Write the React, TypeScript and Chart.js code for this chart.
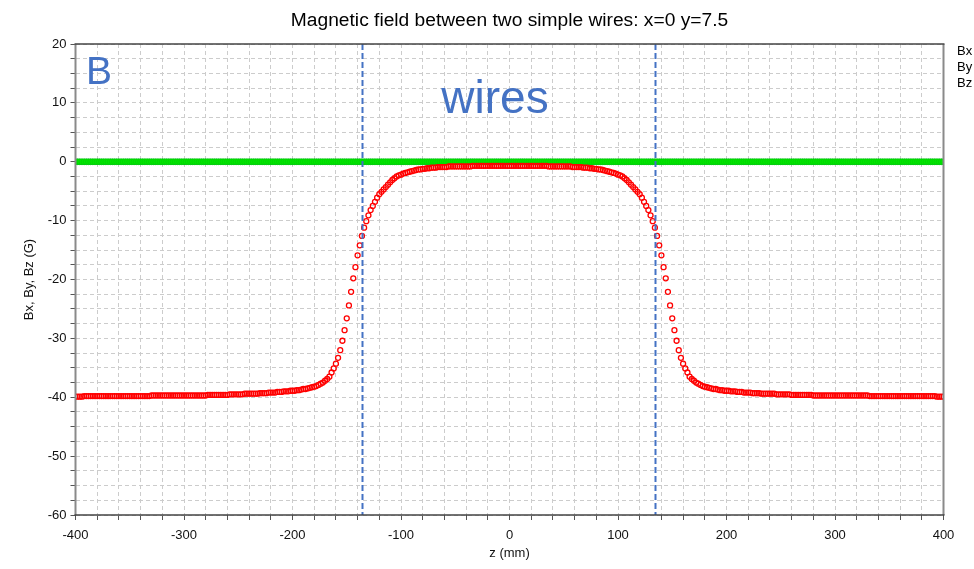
import { useEffect, useRef } from "react";
import { Chart, registerables } from "chart.js";

Chart.register(...registerables);

// Sample grid along the axis between the two wires (mm)
const Z_START = -400;
const Z_STEP = 2;

// Bz (G) at z = -400, -398, ... , 400
const bzValues: number[] = [
  -39.9, -39.9, -39.9, -39.9, -39.8, -39.8, -39.8, -39.8, -39.8, -39.8,
  -39.8, -39.8, -39.8, -39.8, -39.8, -39.8, -39.8, -39.8, -39.8, -39.8,
  -39.8, -39.8, -39.8, -39.8, -39.8, -39.8, -39.8, -39.8, -39.8, -39.8,
  -39.8, -39.8, -39.8, -39.8, -39.8, -39.7, -39.7, -39.7, -39.7, -39.7,
  -39.7, -39.7, -39.7, -39.7, -39.7, -39.7, -39.7, -39.7, -39.7, -39.7,
  -39.7, -39.7, -39.7, -39.7, -39.7, -39.7, -39.7, -39.7, -39.7, -39.7,
  -39.7, -39.6, -39.6, -39.6, -39.6, -39.6, -39.6, -39.6, -39.6, -39.6,
  -39.6, -39.5, -39.5, -39.5, -39.5, -39.5, -39.5, -39.5, -39.4, -39.4,
  -39.4, -39.4, -39.4, -39.4, -39.4, -39.3, -39.3, -39.3, -39.3, -39.2,
  -39.2, -39.2, -39.2, -39.1, -39.1, -39.1, -39.0, -39.0, -39.0, -38.9,
  -38.9, -38.9, -38.8, -38.8, -38.7, -38.6, -38.6, -38.5, -38.4, -38.3,
  -38.2, -38.1, -37.9, -37.7, -37.5, -37.2, -36.9, -36.5, -35.8, -35.1,
  -34.3, -33.3, -32.0, -30.4, -28.6, -26.6, -24.4, -22.1, -19.8, -17.9,
  -15.9, -14.2, -12.6, -11.2, -10.1, -9.1, -8.2, -7.5, -6.8, -6.1,
  -5.5, -5.1, -4.7, -4.3, -3.9, -3.5, -3.1, -2.8, -2.5, -2.3,
  -2.2, -2.0, -1.9, -1.8, -1.7, -1.6, -1.5, -1.4, -1.3, -1.3,
  -1.2, -1.2, -1.1, -1.1, -1.0, -1.0, -1.0, -0.9, -0.9, -0.9,
  -0.9, -0.9, -0.8, -0.8, -0.8, -0.8, -0.8, -0.8, -0.8, -0.8,
  -0.8, -0.8, -0.8, -0.7, -0.7, -0.7, -0.7, -0.7, -0.7, -0.7,
  -0.7, -0.7, -0.7, -0.7, -0.7, -0.7, -0.7, -0.7, -0.7, -0.7,
  -0.7,
  -0.7, -0.7, -0.7, -0.7, -0.7, -0.7, -0.7, -0.7, -0.7, -0.7,
  -0.7, -0.7, -0.7, -0.7, -0.7, -0.7, -0.7, -0.8, -0.8, -0.8,
  -0.8, -0.8, -0.8, -0.8, -0.8, -0.8, -0.8, -0.8, -0.9, -0.9,
  -0.9, -0.9, -0.9, -1.0, -1.0, -1.0, -1.1, -1.1, -1.2, -1.2,
  -1.3, -1.3, -1.4, -1.5, -1.6, -1.7, -1.8, -1.9, -2.0, -2.2,
  -2.3, -2.5, -2.8, -3.1, -3.5, -3.9, -4.3, -4.7, -5.1, -5.5,
  -6.1, -6.8, -7.5, -8.2, -9.1, -10.1, -11.2, -12.6, -14.2, -15.9,
  -17.9, -19.8, -22.1, -24.4, -26.6, -28.6, -30.4, -32.0, -33.3, -34.3,
  -35.1, -35.8, -36.5, -36.9, -37.2, -37.5, -37.7, -37.9, -38.1, -38.2,
  -38.3, -38.4, -38.5, -38.6, -38.6, -38.7, -38.8, -38.8, -38.9, -38.9,
  -38.9, -39.0, -39.0, -39.0, -39.1, -39.1, -39.1, -39.2, -39.2, -39.2,
  -39.2, -39.3, -39.3, -39.3, -39.3, -39.4, -39.4, -39.4, -39.4, -39.4,
  -39.4, -39.4, -39.5, -39.5, -39.5, -39.5, -39.5, -39.5, -39.5, -39.6,
  -39.6, -39.6, -39.6, -39.6, -39.6, -39.6, -39.6, -39.6, -39.6, -39.7,
  -39.7, -39.7, -39.7, -39.7, -39.7, -39.7, -39.7, -39.7, -39.7, -39.7,
  -39.7, -39.7, -39.7, -39.7, -39.7, -39.7, -39.7, -39.7, -39.7, -39.7,
  -39.7, -39.7, -39.7, -39.7, -39.7, -39.8, -39.8, -39.8, -39.8, -39.8,
  -39.8, -39.8, -39.8, -39.8, -39.8, -39.8, -39.8, -39.8, -39.8, -39.8,
  -39.8, -39.8, -39.8, -39.8, -39.8, -39.8, -39.8, -39.8, -39.8, -39.8,
  -39.8, -39.8, -39.8, -39.8, -39.8, -39.8, -39.9, -39.9, -39.9, -39.9,
];

// Bx and By (G) on the same grid: both vanish on this line
const bxValues: number[] = [
  0,0,0,0,0,0,0,0,0,0,0,0,0,0,0,0,0,0,0,0, 0,0,0,0,0,0,0,0,0,0,0,0,0,0,0,0,0,0,0,0,
  0,0,0,0,0,0,0,0,0,0,0,0,0,0,0,0,0,0,0,0, 0,0,0,0,0,0,0,0,0,0,0,0,0,0,0,0,0,0,0,0,
  0,0,0,0,0,0,0,0,0,0,0,0,0,0,0,0,0,0,0,0, 0,0,0,0,0,0,0,0,0,0,0,0,0,0,0,0,0,0,0,0,
  0,0,0,0,0,0,0,0,0,0,0,0,0,0,0,0,0,0,0,0, 0,0,0,0,0,0,0,0,0,0,0,0,0,0,0,0,0,0,0,0,
  0,0,0,0,0,0,0,0,0,0,0,0,0,0,0,0,0,0,0,0, 0,0,0,0,0,0,0,0,0,0,0,0,0,0,0,0,0,0,0,0,
  0,
  0,0,0,0,0,0,0,0,0,0,0,0,0,0,0,0,0,0,0,0, 0,0,0,0,0,0,0,0,0,0,0,0,0,0,0,0,0,0,0,0,
  0,0,0,0,0,0,0,0,0,0,0,0,0,0,0,0,0,0,0,0, 0,0,0,0,0,0,0,0,0,0,0,0,0,0,0,0,0,0,0,0,
  0,0,0,0,0,0,0,0,0,0,0,0,0,0,0,0,0,0,0,0, 0,0,0,0,0,0,0,0,0,0,0,0,0,0,0,0,0,0,0,0,
  0,0,0,0,0,0,0,0,0,0,0,0,0,0,0,0,0,0,0,0, 0,0,0,0,0,0,0,0,0,0,0,0,0,0,0,0,0,0,0,0,
  0,0,0,0,0,0,0,0,0,0,0,0,0,0,0,0,0,0,0,0, 0,0,0,0,0,0,0,0,0,0,0,0,0,0,0,0,0,0,0,0,
];
const byValues: number[] = [
  0,0,0,0,0,0,0,0,0,0,0,0,0,0,0,0,0,0,0,0, 0,0,0,0,0,0,0,0,0,0,0,0,0,0,0,0,0,0,0,0,
  0,0,0,0,0,0,0,0,0,0,0,0,0,0,0,0,0,0,0,0, 0,0,0,0,0,0,0,0,0,0,0,0,0,0,0,0,0,0,0,0,
  0,0,0,0,0,0,0,0,0,0,0,0,0,0,0,0,0,0,0,0, 0,0,0,0,0,0,0,0,0,0,0,0,0,0,0,0,0,0,0,0,
  0,0,0,0,0,0,0,0,0,0,0,0,0,0,0,0,0,0,0,0, 0,0,0,0,0,0,0,0,0,0,0,0,0,0,0,0,0,0,0,0,
  0,0,0,0,0,0,0,0,0,0,0,0,0,0,0,0,0,0,0,0, 0,0,0,0,0,0,0,0,0,0,0,0,0,0,0,0,0,0,0,0,
  0,
  0,0,0,0,0,0,0,0,0,0,0,0,0,0,0,0,0,0,0,0, 0,0,0,0,0,0,0,0,0,0,0,0,0,0,0,0,0,0,0,0,
  0,0,0,0,0,0,0,0,0,0,0,0,0,0,0,0,0,0,0,0, 0,0,0,0,0,0,0,0,0,0,0,0,0,0,0,0,0,0,0,0,
  0,0,0,0,0,0,0,0,0,0,0,0,0,0,0,0,0,0,0,0, 0,0,0,0,0,0,0,0,0,0,0,0,0,0,0,0,0,0,0,0,
  0,0,0,0,0,0,0,0,0,0,0,0,0,0,0,0,0,0,0,0, 0,0,0,0,0,0,0,0,0,0,0,0,0,0,0,0,0,0,0,0,
  0,0,0,0,0,0,0,0,0,0,0,0,0,0,0,0,0,0,0,0, 0,0,0,0,0,0,0,0,0,0,0,0,0,0,0,0,0,0,0,0,
];

const seriesNames = ["Bx", "By", "Bz"];
const wirePositions = [-135, 135]; // mm
const X_MIN = -400, X_MAX = 400, X_MINOR = 20, X_MAJOR = 100;
const Y_MIN = -60, Y_MAX = 20, Y_MINOR = 2.5, Y_MAJOR = 10;

const TITLE = "Magnetic field between two simple wires: x=0 y=7.5";
const FONT = '"Liberation Sans", Arial, Helvetica, sans-serif';
const BLUE = "#4472C4";

const toPoints = (vals: number[]) =>
  vals.map((v, i) => ({ x: Z_START + i * Z_STEP, y: v }));

const isMultiple = (v: number, step: number) =>
  Math.abs(v / step - Math.round(v / step)) < 1e-6;

const decorations = {
  id: "decorations",
  afterDatasetsDraw(chart: any) {
    const { ctx, chartArea, scales } = chart;
    ctx.save();
    // wire positions
    ctx.strokeStyle = BLUE;
    ctx.lineWidth = 2;
    ctx.setLineDash([6, 3]);
    for (const w of wirePositions) {
      const px = Math.round(scales.x.getPixelForValue(w)) - 0.5;
      ctx.beginPath();
      ctx.moveTo(px, chartArea.top);
      ctx.lineTo(px, chartArea.bottom);
      ctx.stroke();
    }
    ctx.setLineDash([]);
    ctx.restore();
  },
  afterDraw(chart: any) {
    const { ctx, chartArea } = chart;
    const { left, right, top, bottom } = chartArea;
    ctx.save();
    // plot frame
    ctx.strokeStyle = "#8a8a8a";
    ctx.lineWidth = 2;
    ctx.beginPath();
    ctx.moveTo(left, top);
    ctx.lineTo(left, bottom);
    ctx.moveTo(right, top);
    ctx.lineTo(right, bottom);
    ctx.stroke();
    ctx.strokeStyle = "#444";
    ctx.lineWidth = 1.5;
    ctx.beginPath();
    ctx.moveTo(left - 1, top);
    ctx.lineTo(right + 1, top);
    ctx.moveTo(left - 1, bottom);
    ctx.lineTo(right + 1, bottom);
    ctx.stroke();

    // title
    ctx.fillStyle = "#000";
    ctx.font = `19.2px ${FONT}`;
    ctx.textAlign = "center";
    ctx.textBaseline = "middle";
    ctx.fillText(TITLE, (left + right) / 2, 21);

    // annotations
    ctx.fillStyle = BLUE;
    ctx.textBaseline = "alphabetic";
    ctx.textAlign = "left";
    ctx.font = `39px ${FONT}`;
    ctx.fillText("B", 86, 84);
    ctx.textAlign = "center";
    ctx.font = `46px ${FONT}`;
    ctx.fillText("wires", 495, 113);

    // series names
    ctx.fillStyle = "#000";
    ctx.textAlign = "left";
    ctx.textBaseline = "middle";
    ctx.font = `13px ${FONT}`;
    seriesNames.forEach((n, i) => ctx.fillText(n, 957, 51 + i * 16));
    ctx.restore();
  },
};

export default function App() {
  const canvasRef = useRef<HTMLCanvasElement | null>(null);

  useEffect(() => {
    if (!canvasRef.current) return;
    const tickFont = { family: FONT, size: 13 };
    const chart = new Chart(canvasRef.current, {
      type: "scatter",
      data: {
        datasets: [
          {
            label: seriesNames[2],
            data: toPoints(bzValues),
            order: 0,
            pointStyle: "circle",
            pointRadius: 2.5,
            borderWidth: 1.3,
            borderColor: "#ff0000",
            backgroundColor: "rgba(0,0,0,0)",
            showLine: false,
          },
          {
            label: seriesNames[1],
            data: toPoints(byValues),
            order: 1,
            pointStyle: "circle",
            pointRadius: 3,
            borderWidth: 0.6,
            borderColor: "#00cc00",
            backgroundColor: "#00e600",
            showLine: false,
          },
          {
            label: seriesNames[0],
            data: toPoints(bxValues),
            order: 2,
            pointStyle: "circle",
            pointRadius: 2.5,
            borderWidth: 1,
            borderColor: "#0000ff",
            backgroundColor: "#0000ff",
            showLine: false,
          },
        ],
      },
      options: {
        animation: false,
        responsive: true,
        maintainAspectRatio: false,
        events: [],
        layout: { padding: { top: 44, right: 30.5, left: 0, bottom: 0 } },
        plugins: {
          legend: { display: false },
          title: { display: false },
          tooltip: { enabled: false },
        },
        scales: {
          x: {
            type: "linear",
            min: X_MIN,
            max: X_MAX,
            afterFit: (s: any) => {
              s.height = 54;
            },
            ticks: {
              stepSize: X_MINOR,
              autoSkip: false,
              maxRotation: 0,
              padding: 8,
              color: "#111",
              font: tickFont,
              callback: (v: any) => (isMultiple(Number(v), X_MAJOR) ? String(v) : ""),
            },
            grid: {
              color: "#cccccc",
              lineWidth: 1,
              tickColor: "#555",
              tickLength: 5,
            },
            border: { display: false, dash: [4, 3] },
            title: {
              display: true,
              text: "z (mm)",
              color: "#111",
              font: { family: FONT, size: 13 },
              padding: { top: 0, bottom: 8 },
            },
          },
          y: {
            type: "linear",
            min: Y_MIN,
            max: Y_MAX,
            afterFit: (s: any) => {
              s.width = 75.5;
            },
            ticks: {
              stepSize: Y_MINOR,
              autoSkip: false,
              padding: 4,
              color: "#111",
              font: tickFont,
              callback: (v: any) => (isMultiple(Number(v), Y_MAJOR) ? String(v) : ""),
            },
            grid: {
              color: "#cccccc",
              lineWidth: 1,
              tickColor: "#555",
              tickLength: 5,
            },
            border: { display: false, dash: [4, 3] },
            title: {
              display: true,
              text: "Bx, By, Bz (G)",
              color: "#111",
              font: { family: FONT, size: 13 },
              padding: { top: 22, bottom: 0 },
            },
          },
        },
      },
      plugins: [decorations],
    } as any);
    return () => chart.destroy();
  }, []);

  return (
    <div style={{ position: "fixed", left: 0, top: 0, width: 974, height: 569 }}>
      <canvas ref={canvasRef} />
    </div>
  );
}
